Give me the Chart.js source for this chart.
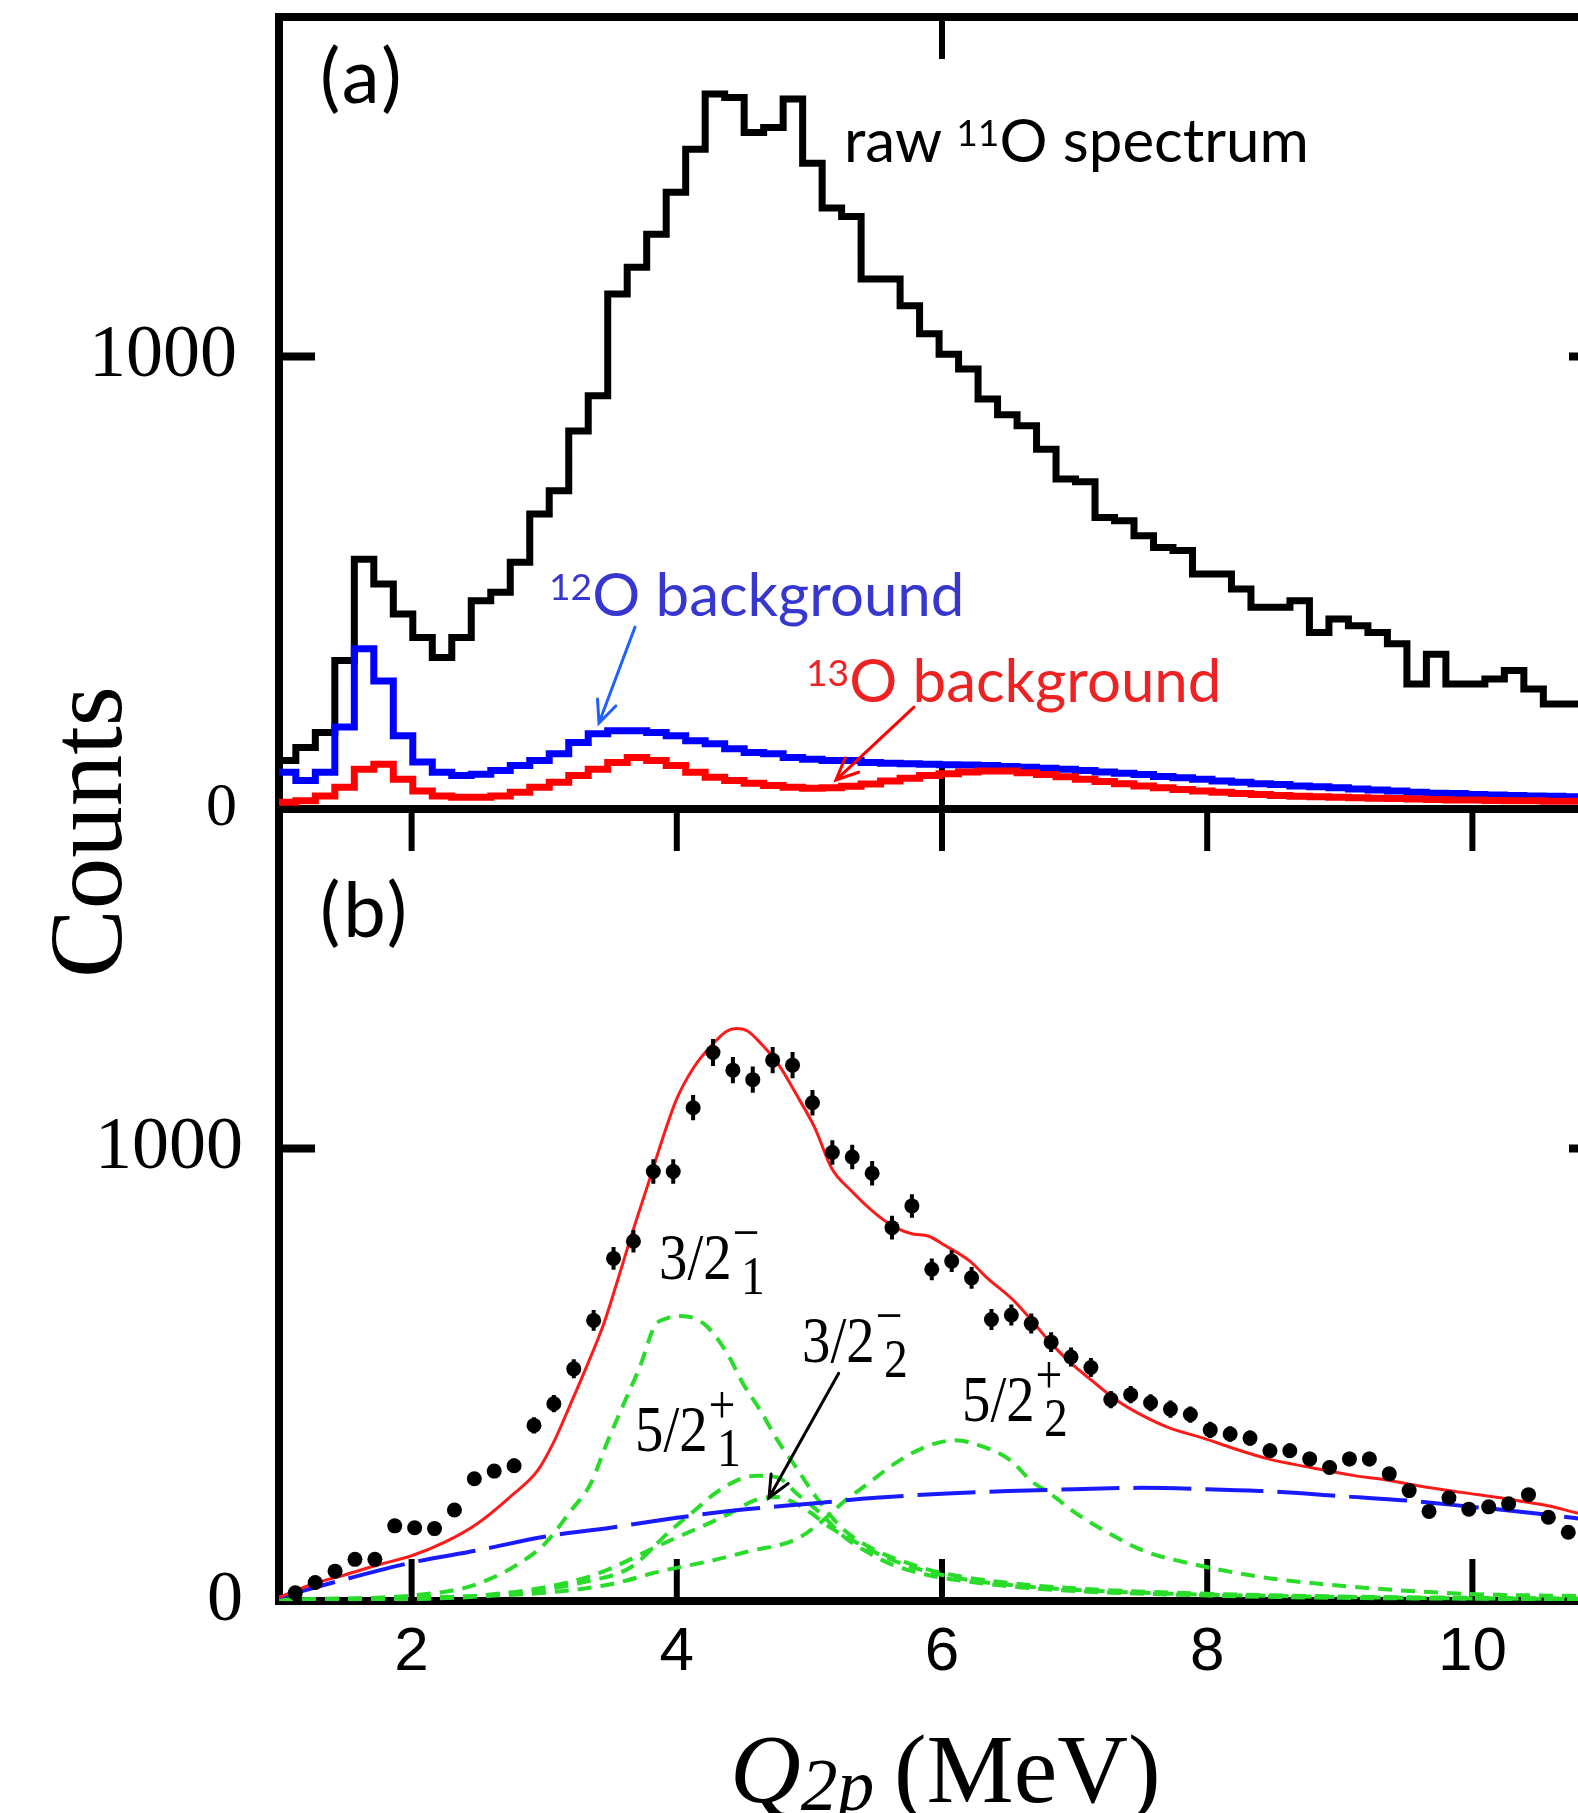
<!DOCTYPE html>
<html>
<head>
<meta charset="utf-8">
<title>11O two-proton decay spectrum</title>
<script src="https://cdn.jsdelivr.net/npm/chart.js@4.4.1/dist/chart.umd.min.js"></script>
<style>
  html, body { margin: 0; padding: 0; background: #fff; overflow: hidden; }
  #page { position: relative; width: 1578px; height: 1813px; overflow: hidden; }
  #spectrum { position: absolute; left: 0; top: 0; }
  .note { position: absolute; white-space: nowrap; line-height: 1; }
  .sans { font-family: Lato, 'Liberation Sans', sans-serif; }
  .serif { font-family: 'Liberation Serif', 'Times New Roman', serif; }
  .iso { font-size: 0.62em; position: relative; top: -0.42em; }
  .tag { font-size: 76px; letter-spacing: 3px; }
  .lvl { font-size: 66px; transform: scaleX(0.86); transform-origin: 0 0; }
  .ss { position: relative; display: inline-block; width: 0.55em; height: 0; }
  .ss .sp, .ss .sb { position: absolute; font-size: 0.84em; line-height: 1; }
  .ss .sp { left: 1px; bottom: 19px; }
  .ss .sb { left: 11px; bottom: -24px; }
  #yTitle { left: -64px; top: 772px; width: 300px; height: 120px; line-height: 120px;
            text-align: center; font-size: 103px; transform: rotate(-90deg); }
  #xTitle { left: 730px; top: 1720px; font-size: 98px; }
  #xTitle .sub { font-size: 0.75em; position: relative; top: 8px; }
</style>
</head>
<body>
<div id="page">
  <canvas id="spectrum" width="1640" height="1813"></canvas>

  <div class="note sans tag" style="left:320px; top:36px;">(a)</div>
  <div class="note sans tag" style="left:320px; top:870px;">(b)</div>

  <div class="note sans" style="left:844px; top:109px; font-size:60px; color:#000;">raw <span class="iso">11</span>O spectrum</div>
  <div class="note sans" style="left:549px; top:563px; font-size:60px; color:#3737d0;"><span class="iso">12</span>O background</div>
  <div class="note sans" style="left:806px; top:649px; font-size:60px; color:#ee2222;"><span class="iso">13</span>O background</div>

  <div class="note serif lvl" style="left:659px; top:1224px;">3/2<span class="ss"><span class="sp">&minus;</span><span class="sb">1</span></span></div>
  <div class="note serif lvl" style="left:635px; top:1396px;">5/2<span class="ss"><span class="sp">+</span><span class="sb">1</span></span></div>
  <div class="note serif lvl" style="left:802px; top:1307px;">3/2<span class="ss"><span class="sp">&minus;</span><span class="sb">2</span></span></div>
  <div class="note serif lvl" style="left:962px; top:1366px;">5/2<span class="ss"><span class="sp">+</span><span class="sb">2</span></span></div>

  <div id="yTitle" class="note serif">Counts</div>
  <div id="xTitle" class="note serif"><i>Q</i><i class="sub">2p</i>&#8201;(MeV)</div>
</div>

<script>
// ---- axes ----
const xTickValues = [2, 4, 6, 8, 10];
const xTicksA = [6];            // panel (a) only carries the 6 MeV mark
const yTickValues = [0, 1000];
const yTickMarks = [1000];

// ---- (a) histograms: fixed-width bins starting at binStart (MeV) ----
const binStart = 0.98;
const binWidth = 0.147;
const raw11O = [107, 136, 169, 328, 552, 497, 431, 379, 335, 379, 460, 479, 545, 652, 703, 835,
                913, 1138, 1197, 1270, 1363, 1458, 1580, 1572, 1495, 1506, 1569, 1427, 1328, 1309, 1171, 1171,
                1112, 1050, 1005, 972, 906, 871, 847, 795, 729, 723, 644, 637, 604, 578, 571, 519,
                519, 486, 446, 446, 460, 390, 420, 405, 390, 365, 276, 342, 276, 276, 287, 306,
                265, 232, 232, 232];
const bkg12O = [81, 63, 81, 181, 354, 283, 162, 104, 81, 74, 77, 85, 96, 107, 122, 147,
                166, 173, 173, 169, 162, 151, 144, 133, 125, 122, 114, 110, 107, 107, 103, 101,
                100, 99, 98, 97, 96, 94, 92, 90, 88, 85, 82, 79, 76, 72, 69, 66,
                62, 59, 56, 54, 51, 49, 47, 44, 42, 40, 37, 35, 34, 32, 31, 30,
                29, 28, 27, 26];
const bkg13O = [15, 18, 29, 48, 88, 99, 66, 40, 29, 26, 26, 29, 37, 48, 59, 74,
                88, 103, 114, 107, 96, 81, 70, 63, 57, 52, 48, 46, 47, 50, 55, 62,
                68, 74, 78, 82, 84, 84, 80, 76, 71, 66, 61, 56, 51, 47, 43, 40,
                37, 34, 32, 30, 28, 27, 26, 25, 24, 23, 22, 21, 20, 20, 19, 18,
                18, 17, 17, 16];

// ---- (b) background-subtracted spectrum ----
const ptStart = 1.123;
const ptStep = 0.15;
const netCounts = [18, 41, 66, 92, 92, 166, 162, 160, 201, 270, 287, 299, 388, 436, 513, 620,
                   757, 795, 949, 949, 1090, 1212, 1173, 1152, 1195, 1184, 1101, 991, 981, 945, 825, 873,
                   733, 751, 714, 622, 632, 613, 572, 539, 516, 445, 456, 438, 424, 412, 378, 369,
                   360, 332, 332, 314, 295, 314, 314, 281, 244, 198, 228, 203, 208, 215, 235, 185,
                   152];
const netErrors = [8, 8, 9, 10, 10, 12, 12, 12, 13, 15, 15, 16, 18, 19, 21, 23,
                   25, 25, 27, 27, 28, 30, 29, 29, 29, 29, 28, 27, 27, 27, 26, 26,
                   24, 24, 24, 23, 23, 22, 22, 21, 21, 19, 19, 19, 19, 18, 18, 17,
                   17, 16, 16, 16, 15, 16, 16, 15, 14, 13, 14, 13, 13, 13, 14, 12,
                   11];

// total fit
const fitX = [1.0, 1.25, 1.5, 1.75, 2.0, 2.25, 2.5, 2.75, 2.95, 3.07, 3.2, 3.33, 3.45, 3.55, 3.66, 3.8,
              3.9, 4.0, 4.13, 4.27, 4.37, 4.45, 4.53, 4.64, 4.77, 4.9, 5.04, 5.17, 5.31, 5.51, 5.65, 5.78,
              5.9, 6.02, 6.21, 6.34, 6.54, 6.67, 6.83, 6.99, 7.16, 7.32, 7.51, 7.71, 7.97, 8.2, 8.46, 8.78,
              9.11, 9.34, 9.6, 9.92, 10.25, 10.58, 10.8, 11.0];
const fitY = [8, 37, 58, 80, 100, 130, 172, 232, 288, 350, 436, 525, 613, 705, 810, 936,
              1028, 1110, 1180, 1230, 1258, 1265, 1260, 1230, 1184, 1120, 1046, 955, 908, 853, 825, 811,
              806, 786, 751, 714, 664, 622, 567, 521, 480, 443, 410, 383, 360, 337, 314, 295,
              277, 268, 254, 240, 226, 210, 194, 184];

// smooth background
const bgX = [1.0, 1.5, 2.0, 2.5, 3.0, 3.5, 4.0, 4.5, 5.0, 5.5, 6.0, 6.5, 7.0, 7.5, 8.0, 8.5,
             9.0, 9.5, 10.0, 10.5, 11.0];
const bgY = [8, 48, 85, 112, 142, 162, 184, 202, 215, 228, 237, 243, 247, 250, 247, 242,
             232, 222, 208, 193, 175];

// resonance components
const s32m1X = [1.0, 1.5, 2.0, 2.4, 2.6, 2.8, 3.0, 3.2, 3.35, 3.47, 3.6, 3.73, 3.83, 3.93, 4.03, 4.13,
                4.23, 4.38, 4.5, 4.63, 4.76, 4.9, 5.05, 5.25, 5.5, 5.75, 6.0, 6.5, 7.0, 8.0, 9.0, 10.0, 11.0];
const s32m1Y = [2, 4, 12, 29, 50, 81, 125, 199, 259, 347, 436, 524, 606, 625, 630, 625,
                606, 547, 480, 421, 355, 295, 230, 160, 112, 83, 62, 40, 28, 16, 10, 7, 5];
const s52p1X = [1.0, 2.0, 2.5, 3.0, 3.3, 3.65, 3.95, 4.13, 4.28, 4.45, 4.6, 4.76, 4.91, 5.06, 5.27, 5.42,
                5.62, 5.87, 6.17, 6.6, 7.0, 8.0, 9.0, 10.0, 11.0];
const s52p1Y = [0, 4, 10, 25, 42, 74, 155, 199, 236, 266, 277, 273, 236, 200, 140, 111,
                81, 59, 44, 30, 22, 12, 7, 5, 3];
const s32m2X = [1.0, 2.0, 2.5, 3.0, 3.39, 3.89, 4.39, 4.6, 4.75, 4.9, 5.01, 5.16, 5.33, 5.58, 5.88, 6.26,
                6.77, 7.52, 8.5, 9.5, 11.0];
const s32m2Y = [0, 5, 12, 30, 59, 126, 192, 224, 230, 215, 195, 162, 133, 96, 66, 44,
                29, 18, 11, 7, 4];
const s52p2X = [1.0, 1.75, 2.5, 3.0, 3.5, 3.88, 4.26, 4.56, 4.89, 5.07, 5.27, 5.44, 5.64, 5.87, 6.1, 6.32,
                6.52, 6.67, 6.82, 7.02, 7.27, 7.52, 7.9, 8.28, 8.53, 9.03, 9.53, 10.03, 10.79, 11.0];
const s52p2Y = [3, 7, 11, 18, 37, 66, 89, 111, 135, 170, 222, 259, 303, 340, 355, 340,
                310, 266, 236, 192, 148, 111, 81, 59, 48, 33, 22, 15, 11, 10];

// annotation arrows, in data units of their panel
const arrows = [
  { axis: 'yA', from: [3.685, 402], to: [3.413, 190], color: '#2060ff', width: 3 },
  { axis: 'yA', from: [5.789, 225], to: [5.2, 64], color: '#ff0000', width: 3 },
  { axis: 'yB', from: [5.221, 503], to: [4.695, 228], color: '#000000', width: 3 }
];

// ---- helpers ----
function histPoints(counts) {
  const pts = counts.map((c, k) => ({ x: binStart + k * binWidth, y: c }));
  pts.push({ x: binStart + counts.length * binWidth, y: counts[counts.length - 1] });
  return pts;
}
const curve = (xs, ys) => xs.map((x, i) => ({ x, y: ys[i] }));
const netPoints = netCounts.map((c, j) => ({ x: ptStart + j * ptStep, y: c }));
const errorSegments = netCounts.flatMap((c, j) => {
  const x = ptStart + j * ptStep;
  return [{ x, y: c - netErrors[j] }, { x, y: c + netErrors[j] }, { x, y: null }];
});

const GREEN = '#29dc29';
const component = (xs, ys) => ({
  data: curve(xs, ys), yAxisID: 'yB', borderColor: GREEN, borderWidth: 4,
  borderDash: [14, 9], cubicInterpolationMode: 'monotone', order: 50
});

const panels = [
  { axis: 'yA', xTicks: xTicksA },
  { axis: 'yB', xTicks: xTickValues }
];

// frame box and inward tick marks for both panels
const framePlugin = {
  id: 'frame',
  beforeDatasetsDraw(chart) {
    const { ctx, chartArea, scales } = chart;
    const xs = scales.x;
    const seg = (x0, y0, x1, y1) => { ctx.beginPath(); ctx.moveTo(x0, y0); ctx.lineTo(x1, y1); ctx.stroke(); };
    ctx.save();
    ctx.strokeStyle = '#000';
    ctx.lineCap = 'butt';
    panels.forEach(p => {
      const ys = scales[p.axis];
      ctx.lineWidth = 8;
      ctx.strokeRect(chartArea.left, ys.top, chartArea.right - chartArea.left, ys.bottom - ys.top);
      ctx.lineWidth = 6;
      p.xTicks.forEach(v => {
        const px = xs.getPixelForValue(v);
        seg(px, ys.bottom, px, ys.bottom - 42);
        seg(px, ys.top, px, ys.top + 42);
      });
      ctx.lineWidth = 8;
      yTickMarks.forEach(v => {
        const py = ys.getPixelForValue(v);
        seg(chartArea.left, py, chartArea.left + 36, py);
        seg(chartArea.right, py, chartArea.right - 36, py);
      });
    });
    ctx.restore();
  }
};

const arrowPlugin = {
  id: 'arrows',
  afterDatasetsDraw(chart) {
    const { ctx, scales } = chart;
    const xs = scales.x;
    ctx.save();
    ctx.lineCap = 'round';
    arrows.forEach(a => {
      const ys = scales[a.axis];
      const x0 = xs.getPixelForValue(a.from[0]), y0 = ys.getPixelForValue(a.from[1]);
      const x1 = xs.getPixelForValue(a.to[0]), y1 = ys.getPixelForValue(a.to[1]);
      const ang = Math.atan2(y1 - y0, x1 - x0);
      const len = 24, spread = 0.42;
      ctx.strokeStyle = a.color;
      ctx.lineWidth = a.width;
      ctx.beginPath();
      ctx.moveTo(x0, y0);
      ctx.lineTo(x1, y1);
      ctx.moveTo(x1 - len * Math.cos(ang - spread), y1 - len * Math.sin(ang - spread));
      ctx.lineTo(x1, y1);
      ctx.lineTo(x1 - len * Math.cos(ang + spread), y1 - len * Math.sin(ang + spread));
      ctx.stroke();
    });
    ctx.restore();
  }
};

function yScale(weight, pad, zeroSize) {
  return {
    type: 'linear', position: 'left', stack: 'panels', stackWeight: 1, weight,
    min: 0, max: 1750,
    grid: { display: false, drawTicks: false },
    border: { display: false },
    afterBuildTicks: s => { s.ticks = yTickValues.map(v => ({ value: v })); },
    afterFit: s => { s.width = 279; s.paddingTop = 0; s.paddingBottom = 0; },
    ticks: {
      color: '#000', padding: pad, autoSkip: false,
      callback: v => String(v),
      font: c => ({ family: "'Liberation Serif', 'Times New Roman', serif",
                    size: c.tick && c.tick.value === 0 ? zeroSize : 74 })
    }
  };
}

new Chart(document.getElementById('spectrum'), {
  type: 'line',
  data: {
    datasets: [
      // panel (a): each count holds from its bin's left edge to the next edge
      { label: 'raw 11O', data: histPoints(raw11O), yAxisID: 'yA', stepped: 'before',
        borderColor: '#000', borderWidth: 7, borderJoinStyle: 'miter', order: 30 },
      { label: '12O background', data: histPoints(bkg12O), yAxisID: 'yA', stepped: 'before',
        borderColor: '#0000ff', borderWidth: 7, borderJoinStyle: 'miter', order: 20 },
      { label: '13O background', data: histPoints(bkg13O), yAxisID: 'yA', stepped: 'before',
        borderColor: '#ff0000', borderWidth: 7, borderJoinStyle: 'miter', order: 10 },
      // panel (b)
      component(s32m1X, s32m1Y),
      component(s52p1X, s52p1Y),
      component(s32m2X, s32m2Y),
      component(s52p2X, s52p2Y),
      { label: 'background', data: curve(bgX, bgY), yAxisID: 'yB', borderColor: '#1a1aff',
        borderWidth: 4, borderDash: [58, 14], cubicInterpolationMode: 'monotone', order: 40 },
      { label: 'fit', data: curve(fitX, fitY), yAxisID: 'yB', borderColor: '#ff1a1a',
        borderWidth: 3, cubicInterpolationMode: 'monotone', order: 30 },
      { label: 'errors', data: errorSegments, yAxisID: 'yB', borderColor: '#000',
        borderWidth: 4, spanGaps: false, order: 20 },
      { label: 'data', data: netPoints, yAxisID: 'yB', showLine: false,
        pointRadius: 7.5, pointBackgroundColor: '#000', pointBorderWidth: 0, order: 10 }
    ]
  },
  options: {
    responsive: false,
    animation: false,
    devicePixelRatio: 1,
    layout: { padding: { top: 17, right: 35, left: 0, bottom: 0 } },
    elements: { point: { radius: 0 }, line: { tension: 0 } },
    plugins: { legend: { display: false }, tooltip: { enabled: false } },
    scales: {
      x: {
        type: 'linear', position: 'bottom', min: 1, max: 11,
        grid: { display: false, drawTicks: false },
        border: { display: false },
        afterBuildTicks: s => { s.ticks = xTickValues.map(v => ({ value: v })); },
        afterFit: s => { s.height = 212; s.paddingLeft = 0; s.paddingRight = 0; },
        ticks: { color: '#000', padding: 15, maxRotation: 0, autoSkip: false,
                 callback: v => String(v),
                 font: { family: "'Liberation Sans', Arial, sans-serif", size: 62 } }
      },
      yA: yScale(1, 42, 62),
      yB: yScale(0, 36, 72)
    }
  },
  plugins: [framePlugin, arrowPlugin]
});
</script>
</body>
</html>
